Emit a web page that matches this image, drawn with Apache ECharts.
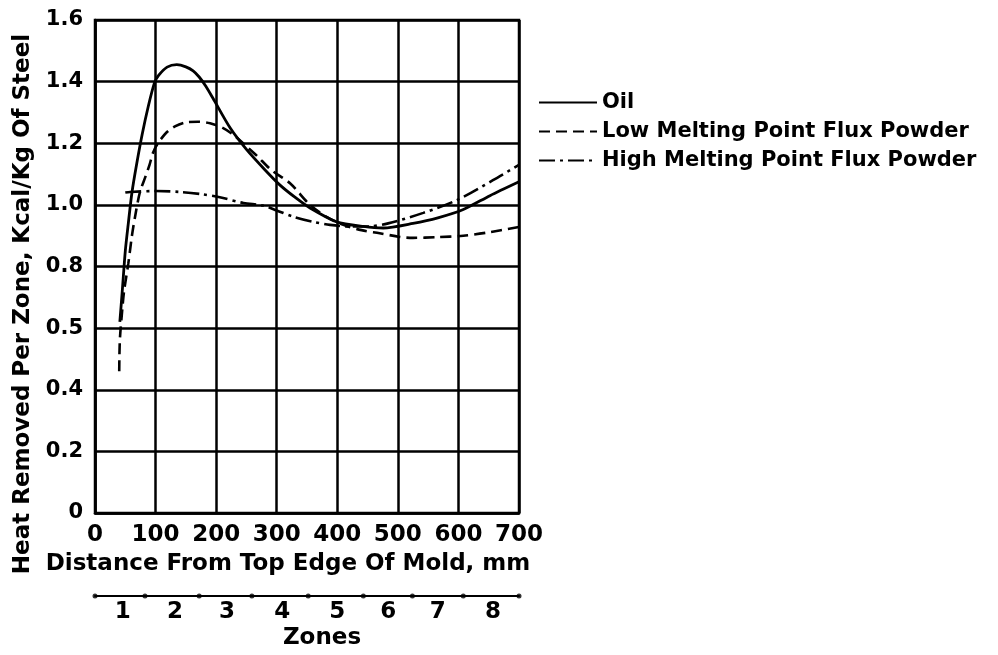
<!DOCTYPE html>
<html>
<head>
<meta charset="utf-8">
<script src="https://cdn.jsdelivr.net/npm/echarts@6/dist/echarts.min.js"></script>
<style>
html,body{margin:0;padding:0;background:#fff;}
#chart{width:998px;height:655px;}
</style>
</head>
<body>
<div id="chart"></div>
<script>
// ---- Data ----
var seriesNames = ['Oil', 'Low Melting Point Flux Powder', 'High Melting Point Flux Powder'];

var oilX = [41, 45, 50, 55, 61, 69, 78, 88, 98, 105, 119, 135, 150, 162, 172, 183, 195, 223, 250, 280, 305, 330, 355, 399, 443, 476, 525, 566, 608, 652, 700];
var oilY = [0.62, 0.72, 0.85, 0.94, 1.04, 1.135, 1.23, 1.32, 1.395, 1.42, 1.447, 1.455, 1.448, 1.435, 1.415, 1.385, 1.345, 1.25, 1.18, 1.115, 1.065, 1.025, 0.99, 0.945, 0.93, 0.925, 0.94, 0.958, 0.985, 1.03, 1.075];

var lowX = [40, 41, 45, 48, 55, 61, 66, 74, 83, 90, 96, 104, 118, 132, 150, 170, 190, 211, 230, 250, 267, 290, 322, 355, 383, 410, 440, 470, 503, 525, 564, 608, 647, 700];
var lowY = [0.46, 0.56, 0.66, 0.72, 0.81, 0.90, 0.96, 1.04, 1.09, 1.13, 1.17, 1.20, 1.235, 1.255, 1.268, 1.27, 1.265, 1.25, 1.225, 1.19, 1.16, 1.115, 1.07, 1.0, 0.96, 0.935, 0.918, 0.908, 0.896, 0.893, 0.895, 0.90, 0.91, 0.928];

var highX = [50, 58, 100, 140, 175, 206, 245, 277, 300, 327, 360, 388, 420, 450, 484, 542, 598, 657, 700];
var highY = [1.04, 1.042, 1.045, 1.042, 1.035, 1.025, 1.006, 0.998, 0.982, 0.962, 0.945, 0.935, 0.93, 0.93, 0.94, 0.974, 1.016, 1.08, 1.13];

var xTicks = [0, 100, 200, 300, 400, 500, 600, 700];
var yTickValues = [0, 0.2, 0.4, 0.6, 0.8, 1.0, 1.2, 1.4, 1.6];
var yTickLabels = ['0', '0.2', '0.4', '0.5', '0.8', '1.0', '1.2', '1.4', '1.6'];

var zoneBounds = [0, 82.5, 172, 259, 352, 443, 524, 608, 700];
var zoneLabelPos = [46, 132, 218, 309, 400, 484, 566, 657];
var zoneLabels = ['1', '2', '3', '4', '5', '6', '7', '8'];

function zip(xs, ys) { return xs.map(function (x, i) { return [x, ys[i]]; }); }

var FONT = 'DejaVu Sans';
var chart = echarts.init(document.getElementById('chart'), null, {renderer: 'canvas'});

var option = {
  backgroundColor: '#fff',
  animation: false,
  textStyle: {fontFamily: FONT, color: '#000'},
  legend: {
    orient: 'vertical',
    left: 533,
    top: 87,
    itemWidth: 58,
    itemHeight: 22,
    itemGap: 8,
    data: seriesNames,
    itemStyle: {opacity: 0},
    textStyle: {fontFamily: FONT, fontSize: 21, fontWeight: 'bold', color: '#000', padding: [0, 0, 6, 0]}
  },
  grid: [
    {left: 95, right: 479, top: 20, bottom: 142, show: true, borderColor: '#000', borderWidth: 2.5, outerBoundsMode: 'none'},
    {left: 95, right: 479, top: 595, height: 1, outerBoundsMode: 'none'}
  ],
  xAxis: [
    {
      type: 'value', gridIndex: 0, min: 0, max: 700, interval: 100,
      name: 'Distance From Top Edge Of Mold, mm',
      nameLocation: 'middle', nameGap: 40,
      nameTextStyle: {fontFamily: FONT, fontSize: 23, fontWeight: 'bold', color: '#000', padding: [0, 38, 0, 0]},
      axisLine: {show: true, lineStyle: {color: '#000', width: 2.5}},
      axisTick: {show: false},
      splitLine: {show: true, lineStyle: {color: '#000', width: 2.5}},
      axisLabel: {
        margin: 11, fontFamily: FONT, fontSize: 23, fontWeight: 'bold', color: '#000',
        formatter: function (v) { return xTicks.indexOf(v) >= 0 ? String(v) : ''; }
      }
    },
    {
      type: 'value', gridIndex: 1, min: 0, max: 700, position: 'bottom',
      name: 'Zones',
      nameLocation: 'middle', nameGap: 31,
      nameTextStyle: {fontFamily: FONT, fontSize: 23, fontWeight: 'bold', color: '#000', padding: [0, 0, 0, 30]},
      axisLine: {show: true, lineStyle: {color: '#000', width: 2}},
      axisTick: {show: false},
      splitLine: {show: false},
      axisLabel: {
        margin: 5, fontFamily: FONT, fontSize: 23, fontWeight: 'bold', color: '#000',
        customValues: zoneLabelPos,
        formatter: function (v) {
          var i = zoneLabelPos.indexOf(v);
          return i >= 0 ? zoneLabels[i] : '';
        }
      }
    }
  ],
  yAxis: [
    {
      type: 'value', gridIndex: 0, min: 0, max: 1.6, interval: 0.2,
      name: 'Heat Removed Per Zone, Kcal/Kg Of Steel',
      nameLocation: 'middle', nameGap: 60, nameRotate: 90,
      nameTextStyle: {fontFamily: FONT, fontSize: 23, fontWeight: 'bold', color: '#000', padding: [0, 75, 0, 0]},
      axisLine: {show: true, lineStyle: {color: '#000', width: 2.5}},
      axisTick: {show: false},
      splitLine: {show: true, lineStyle: {color: '#000', width: 2.5}},
      axisLabel: {
        margin: 12, fontFamily: FONT, fontSize: 21, fontWeight: 'bold', color: '#000',
        formatter: function (v) {
          for (var i = 0; i < yTickValues.length; i++) {
            if (Math.abs(yTickValues[i] - v) < 1e-6) return yTickLabels[i];
          }
          return '';
        }
      }
    },
    {type: 'value', gridIndex: 1, min: 0, max: 1, show: false}
  ],
  series: [
    {
      name: seriesNames[0], type: 'line', xAxisIndex: 0, yAxisIndex: 0,
      data: zip(oilX, oilY), smooth: 0.25, symbol: 'none',
      lineStyle: {color: '#000', width: 2.8, type: 'solid'},
      itemStyle: {color: '#000'}
    },
    {
      name: seriesNames[1], type: 'line', xAxisIndex: 0, yAxisIndex: 0,
      data: zip(lowX, lowY), smooth: 0.3, symbol: 'none',
      lineStyle: {color: '#000', width: 2.6, type: [11, 6]},
      itemStyle: {color: '#000'}
    },
    {
      name: seriesNames[2], type: 'line', xAxisIndex: 0, yAxisIndex: 0,
      data: zip(highX, highY), smooth: 0.3, symbol: 'none',
      lineStyle: {color: '#000', width: 2.6, type: [16, 5, 3, 5]},
      itemStyle: {color: '#000'}
    },
    {
      name: 'zoneMarks', type: 'scatter', xAxisIndex: 1, yAxisIndex: 1,
      data: zoneBounds.map(function (b) { return [b, 0]; }),
      symbol: 'circle', symbolSize: 5, itemStyle: {color: '#000'}, silent: true
    }
  ]
};
chart.setOption(option);
</script>
</body>
</html>
